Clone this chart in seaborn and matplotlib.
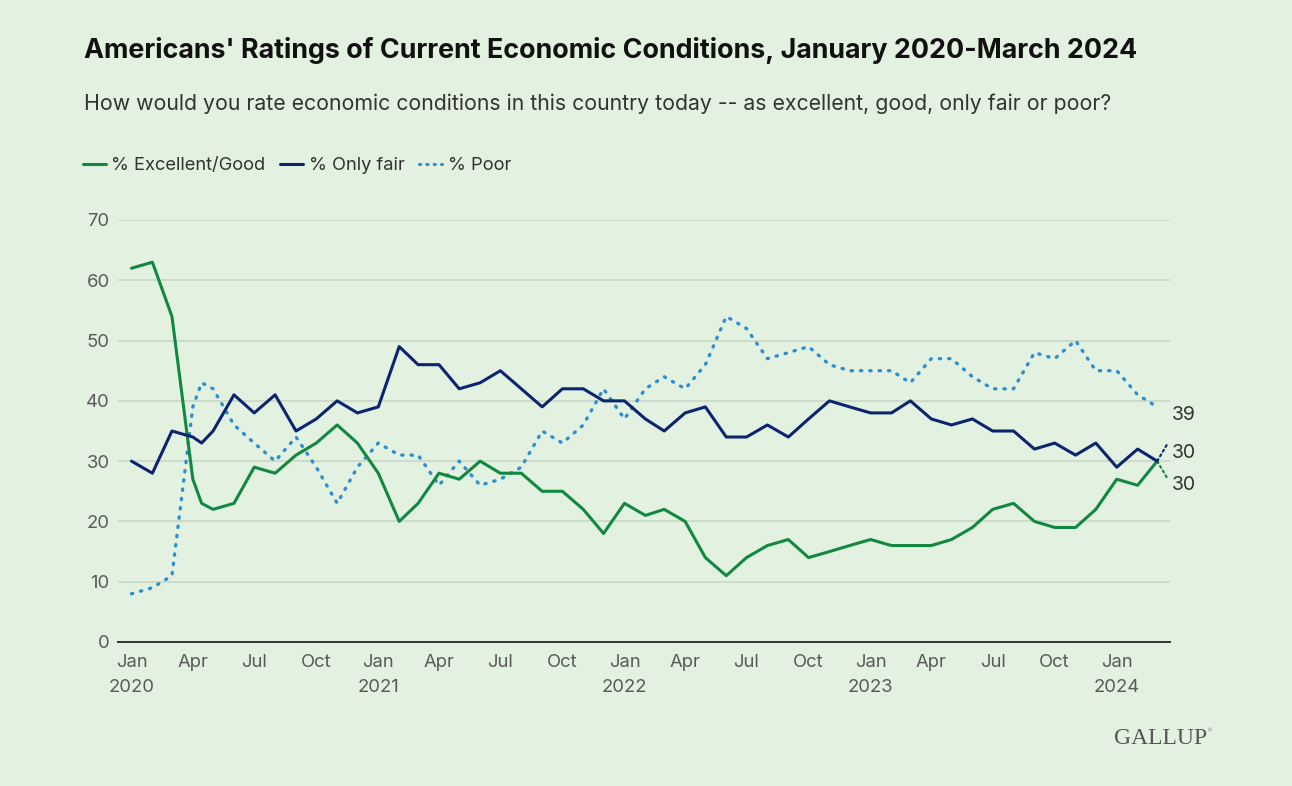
import matplotlib
matplotlib.use("Agg")
import matplotlib.pyplot as plt
import matplotlib.dates as mdates
import seaborn as sns
import pandas as pd

# ---------------- data ----------------
dates = [
    "2020-01-01", "2020-02-01", "2020-03-01", "2020-04-01", "2020-04-14", "2020-05-01",
    "2020-06-01", "2020-07-01", "2020-08-01", "2020-09-01", "2020-10-01", "2020-11-01", "2020-12-01",
    "2021-01-01", "2021-02-01", "2021-03-01", "2021-04-01", "2021-05-01", "2021-06-01",
    "2021-07-01", "2021-08-01", "2021-09-01", "2021-10-01", "2021-11-01", "2021-12-01",
    "2022-01-01", "2022-02-01", "2022-03-01", "2022-04-01", "2022-05-01", "2022-06-01",
    "2022-07-01", "2022-08-01", "2022-09-01", "2022-10-01", "2022-11-01", "2022-12-01",
    "2023-01-01", "2023-02-01", "2023-03-01", "2023-04-01", "2023-05-01", "2023-06-01",
    "2023-07-01", "2023-08-01", "2023-09-01", "2023-10-01", "2023-11-01", "2023-12-01",
    "2024-01-01", "2024-02-01", "2024-03-01",
]
excellent_good = [
    62, 63, 54, 27, 23, 22, 23, 29, 28, 31, 33, 36, 33,
    28, 20, 23, 28, 27, 30, 28, 28, 25, 25, 22, 18,
    23, 21, 22, 20, 14, 11, 14, 16, 17, 14, 15, 16,
    17, 16, 16, 16, 17, 19, 22, 23, 20, 19, 19, 22,
    27, 26, 30,
]
only_fair = [
    30, 28, 35, 34, 33, 35, 41, 38, 41, 35, 37, 40, 38,
    39, 49, 46, 46, 42, 43, 45, 42, 39, 42, 42, 40,
    40, 37, 35, 38, 39, 34, 34, 36, 34, 37, 40, 39,
    38, 38, 40, 37, 36, 37, 35, 35, 32, 33, 31, 33,
    29, 32, 30,
]
poor = [
    8, 9, 11, 39, 43, 42, 36, 33, 30, 34, 29, 23, 29,
    33, 31, 31, 26, 30, 26, 27, 29, 35, 33, 36, 42,
    37, 42, 44, 42, 46, 54, 52, 47, 48, 49, 46, 45,
    45, 45, 43, 47, 47, 44, 42, 42, 48, 47, 50, 45,
    45, 41, 39,
]
series_names = ["% Excellent/Good", "% Only fair", "% Poor"]
y_ticks = [0, 10, 20, 30, 40, 50, 60, 70]
tick_years = [2020, 2021, 2022, 2023, 2024]
tick_months = ["Jan", "Apr", "Jul", "Oct"]

title = "Americans' Ratings of Current Economic Conditions, January 2020-March 2024"
subtitle = "How would you rate economic conditions in this country today -- as excellent, good, only fair or poor?"

# ---------------- style ----------------
BG = "#E3F1E0"
GREEN = "#11883F"
NAVY = "#0B2470"
BLUE = "#2E8FD0"
TXT = "#333333"
TICK = "#5a5a5a"

sns.set_theme(style="white")
plt.rcParams["font.family"] = ["Inter", "DejaVu Sans"]

df = pd.DataFrame({
    "date": pd.to_datetime(dates * 3),
    "value": excellent_good + only_fair + poor,
    "series": [series_names[0]] * len(dates) + [series_names[1]] * len(dates) + [series_names[2]] * len(dates),
})

W, H = 1292, 786
fig = plt.figure(figsize=(W / 100, H / 100), dpi=100, facecolor=BG)
ax = fig.add_axes([118 / W, 1 - 642 / H, (1170 - 118) / W, (642 - 220) / H])
ax.set_facecolor(BG)

palette = {series_names[0]: GREEN, series_names[1]: NAVY, series_names[2]: BLUE}
for name in series_names:
    sub = df[df["series"] == name]
    if name == "% Poor":
        sns.lineplot(data=sub, x="date", y="value", ax=ax, color=palette[name],
                     linewidth=2.4, linestyle=(0, (0.4, 2.4)), dash_capstyle="round",
                     solid_capstyle="round", legend=False, zorder=3)
    else:
        sns.lineplot(data=sub, x="date", y="value", ax=ax, color=palette[name],
                     linewidth=2.2, legend=False, zorder=4)

# axes
ax.set_ylim(0, 70)
ax.set_xlim(pd.Timestamp("2019-12-12"), pd.Timestamp("2024-03-20"))
ax.set_yticks(y_ticks)
ax.set_yticklabels([str(v) for v in y_ticks])
xt, xl = [], []
for yr in tick_years:
    for mi, mn in enumerate(tick_months):
        d = pd.Timestamp(year=yr, month=1 + 3 * mi, day=1)
        if d > pd.Timestamp("2024-03-01"):
            continue
        xt.append(d)
        xl.append(f"{mn}\n{yr}" if mn == "Jan" else mn)
ax.set_xticks(xt)
ax.set_xticklabels(xl, linespacing=1.65)
ax.tick_params(axis="both", length=0, labelsize=13.3, labelcolor=TICK)
ax.tick_params(axis="x", pad=8.5)
ax.tick_params(axis="y", pad=6)
ax.set_xlabel("")
ax.set_ylabel("")
ax.grid(axis="y", color="#C9D8C6", linewidth=1.2)
ax.grid(axis="x", visible=False)
for s in ["top", "right", "left"]:
    ax.spines[s].set_visible(False)
ax.spines["bottom"].set_color("#333333")
ax.spines["bottom"].set_linewidth(1.4)
ax.spines["bottom"].set_zorder(5)

# end labels
last = pd.Timestamp(dates[-1])
ax.annotate(str(poor[-1]), xy=(last, poor[-1]), xytext=(10.5, -6), textcoords="offset points",
            ha="left", va="center", fontsize=14, color=TXT, annotation_clip=False)
ax.annotate("", xy=(last, only_fair[-1]), xytext=(6.8, 11.5), textcoords="offset points",
            arrowprops=dict(arrowstyle="-", linestyle=(0, (1, 1.6)), color=NAVY, lw=1.5,
                            shrinkA=0, shrinkB=0), annotation_clip=False)
ax.annotate("", xy=(last, excellent_good[-1]), xytext=(6.8, -11.5), textcoords="offset points",
            arrowprops=dict(arrowstyle="-", linestyle=(0, (1, 1.6)), color=GREEN, lw=1.5,
                            shrinkA=0, shrinkB=0), annotation_clip=False)
ax.annotate(str(only_fair[-1]), xy=(last, only_fair[-1]), xytext=(10.5, 5.8), textcoords="offset points",
            ha="left", va="center", fontsize=14, color=TXT, annotation_clip=False)
ax.annotate(str(excellent_good[-1]), xy=(last, excellent_good[-1]), xytext=(10.5, -17.2), textcoords="offset points",
            ha="left", va="center", fontsize=14, color=TXT, annotation_clip=False)

# title / subtitle
fig.text(84 / W, 1 - 51 / H, title, ha="left", va="center", fontsize=19.35, fontweight="bold", color="#111111")
fig.text(84 / W, 1 - 104 / H, subtitle, ha="left", va="center", fontsize=15.3, color=TXT)

# legend
handles = [
    plt.Line2D([], [], color=GREEN, lw=2.2),
    plt.Line2D([], [], color=NAVY, lw=2.2),
    plt.Line2D([], [], color=BLUE, lw=2.2, linestyle=(0, (0.4, 2.0)), dash_capstyle="round"),
]
leg = fig.legend(handles, series_names, loc="center left", bbox_to_anchor=(83 / W, 1 - 166 / H),
                 ncol=3, frameon=False, fontsize=13.2, handlelength=1.25, handletextpad=0.3,
                 columnspacing=0.8, borderaxespad=0, borderpad=0)
for t in leg.get_texts():
    t.set_color(TXT)

# logo
fig.text(1207 / W, 1 - 739 / H, "GALLUP", ha="right", va="center", fontsize=17,
         family=["Liberation Serif", "DejaVu Serif"], color="#555555")
fig.text(1208 / W, 1 - 731 / H, "®", ha="left", va="center", fontsize=4,
         family=["Liberation Serif", "DejaVu Serif"], color="#777777")

fig.savefig("out.png", dpi=100, facecolor=BG)
